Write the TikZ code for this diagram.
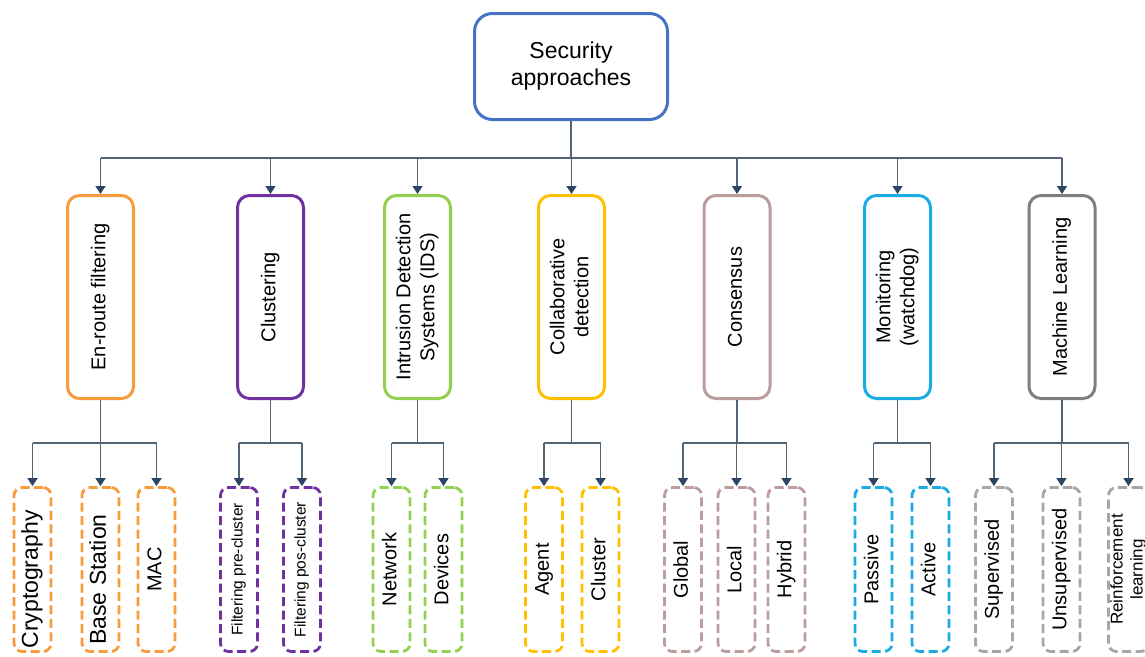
\documentclass[tikz,border=0pt]{standalone}
\usepackage{fontspec}
\setmainfont{Liberation Sans}
\usetikzlibrary{arrows.meta}
\definecolor{cblue}{HTML}{4472C4}
\definecolor{corange}{HTML}{F79B3C}
\definecolor{cpurple}{HTML}{7030A0}
\definecolor{cgreen}{HTML}{92D050}
\definecolor{cgold}{HTML}{FFC000}
\definecolor{crose}{HTML}{BC9C9C}
\definecolor{csky}{HTML}{1AABE3}
\definecolor{cgrey}{HTML}{7F7F7F}
\definecolor{cgreyl}{HTML}{A6A6A6}
\definecolor{lineC}{HTML}{516476}
\definecolor{tipC}{HTML}{2C4563}
\newcommand\vtext[1]{\rotatebox{90}{\begin{tabular}{@{}c@{}}#1\end{tabular}}}
\begin{document}
\begin{tikzpicture}[x=1pt,y=-1pt,
  topbox/.style={draw=cblue, line width=3pt, rounded corners=18pt, minimum width=193pt, minimum height=106pt, inner sep=0pt, align=center, font=\fontsize{23}{27}\selectfont},
  midbox/.style={line width=3pt, rounded corners=12pt, minimum width=66pt, minimum height=203pt, inner sep=0pt, font=\fontsize{20}{24}\selectfont},
  subbox/.style={line width=2.8pt, dash pattern=on 9pt off 4.5pt, rounded corners=8pt, minimum width=37pt, minimum height=164pt, inner sep=0pt, font=\fontsize{20}{24}\selectfont},
  conn/.style={draw=lineC, line width=1.4pt},
  arr/.style={conn, -{Triangle[length=8pt,width=10pt,color=tipC]}}
]
\useasboundingbox (0,0) rectangle (1145,656);
\fill[white] (0,0) rectangle (1145,656);

\node[topbox] (top) at (571,66.5) {Security\\approaches};

\node[midbox, draw=corange] (enr) at (100.5,297) {\vtext{En-route filtering}};
\node[midbox, draw=cpurple] (clu) at (270.5,297) {\vtext{Clustering}};
\node[midbox, draw=cgreen] (ids) at (417.5,297) {\vtext{Intrusion Detection\\Systems (IDS)}};
\node[midbox, draw=cgold] (col) at (571.5,297) {\vtext{Collaborative\\detection}};
\node[midbox, draw=crose] (con) at (737,297) {\vtext{Consensus}};
\node[midbox, draw=csky] (mon) at (897.5,297) {\vtext{Monitoring\\(watchdog)}};
\node[midbox, draw=cgrey] (ml) at (1062,297) {\vtext{Machine Learning}};

\node[subbox, draw=corange, font=\fontsize{23}{27}\selectfont] (cry) at (32.5,569.5) {\vtext{Cryptography\kern20pt}};
\node[subbox, draw=corange, font=\fontsize{23}{27}\selectfont] (bas) at (100.5,569.5) {\vtext{Base Station\kern20pt}};
\node[subbox, draw=corange] (mac) at (156.5,569.5) {\vtext{MAC}};
\node[subbox, draw=cpurple, font=\fontsize{15.5}{18}\selectfont] (pre) at (239,569.5) {\vtext{Filtering pre-cluster}};
\node[subbox, draw=cpurple, font=\fontsize{15.5}{18}\selectfont] (pos) at (302,569.5) {\vtext{Filtering pos-cluster}};
\node[subbox, draw=cgreen] (net) at (391.5,569.5) {\vtext{Network}};
\node[subbox, draw=cgreen] (dev) at (443.5,569.5) {\vtext{Devices}};
\node[subbox, draw=cgold] (age) at (544,569.5) {\vtext{Agent}};
\node[subbox, draw=cgold] (cls) at (600.5,569.5) {\vtext{Cluster}};
\node[subbox, draw=crose] (glo) at (683,569.5) {\vtext{Global}};
\node[subbox, draw=crose] (loc) at (736.5,569.5) {\vtext{Local}};
\node[subbox, draw=crose] (hyb) at (786.5,569.5) {\vtext{Hybrid}};
\node[subbox, draw=csky] (pas) at (873.5,569.5) {\vtext{Passive}};
\node[subbox, draw=csky] (act) at (930.5,569.5) {\vtext{Active}};
\node[subbox, draw=cgreyl] (sup) at (994,569.5) {\vtext{Supervised}};
\node[subbox, draw=cgreyl] (uns) at (1061.5,569.5) {\vtext{Unsupervised}};
\node[subbox, draw=cgreyl, font=\fontsize{17}{20}\selectfont] (rei) at (1128.5,569.5) {\vtext{Reinforcement\\learning}};

% top level connectors
\path (top.south) ++(0,37) coordinate (tb);
\draw[conn] (top.south) -- (tb);
\draw[conn] (tb -| enr.north) -- (tb -| ml.north);
\foreach \n in {enr,clu,ids,col,con,mon,ml}
  \draw[arr] (tb -| \n.north) -- (\n.north);

% second level connectors
\foreach \p/\f/\l/\list in {enr/cry/mac/{cry,bas,mac}, clu/pre/pos/{pre,pos}, ids/net/dev/{net,dev}, col/age/cls/{age,cls}, con/glo/hyb/{glo,loc,hyb}, mon/pas/act/{pas,act}, ml/sup/rei/{sup,uns,rei}}{
  \path (\p.south) ++(0,43) coordinate (\p b);
  \draw[conn] (\p.south) -- (\p b);
  \draw[conn] (\p b -| \f.north) -- (\p b -| \l.north);
  \foreach \c in \list
    \draw[arr] (\p b -| \c.north) -- (\c.north);
}
\end{tikzpicture}
\end{document}
